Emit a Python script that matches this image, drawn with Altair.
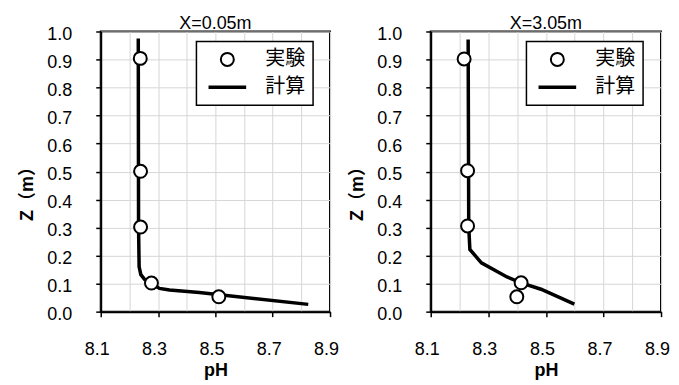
import altair as alt
import pandas as pd

# ---- data ----
SERIES = ["実験", "計算"]

# X=0.05m
EXP_PH_A = [8.238, 8.239, 8.239, 8.277, 8.512]
EXP_Z_A = [0.904, 0.501, 0.302, 0.102, 0.053]
CALC_PH_A = [8.231, 8.232, 8.234, 8.240, 8.253, 8.276, 8.305, 8.340, 8.444, 8.824]
CALC_Z_A = [0.975, 0.300, 0.160, 0.132, 0.115, 0.100, 0.083, 0.077, 0.068, 0.026]

# X=3.05m
EXP_PH_B = [8.216, 8.228, 8.228, 8.414, 8.399]
EXP_Z_B = [0.902, 0.503, 0.306, 0.103, 0.053]
CALC_PH_B = [8.230, 8.232, 8.236, 8.276, 8.365, 8.414, 8.483, 8.599]
CALC_Z_B = [0.971, 0.303, 0.222, 0.174, 0.124, 0.103, 0.080, 0.027]

TITLES = ["X=0.05m", "X=3.05m"]
PH_TICKS = [8.1, 8.2, 8.3, 8.4, 8.5, 8.6, 8.7, 8.8, 8.9]
Z_TICKS = [0.0, 0.1, 0.2, 0.3, 0.4, 0.5, 0.6, 0.7, 0.8, 0.9, 1.0]

FONT = "Liberation Sans, Noto Sans CJK JP, sans-serif"
CJK = "Noto Sans CJK JP, sans-serif"

# symbol paths (same horizontal extent so legend labels line up)
CIRCLE_SYM = "M-2.75,0M2.75,0M-1,0A1,1,0,1,0,1,0A1,1,0,1,0,-1,0Z"
LINE_SYM = "M-2.75,-0.12L2.75,-0.12L2.75,0.12L-2.75,0.12Z"

ODD = "round(datum.value*10) % 2 == 1"


def panel(title, exp_ph, exp_z, calc_ph, calc_z, w, h):
    exp = pd.DataFrame({"pH": exp_ph, "Z": exp_z, "series": SERIES[0]})
    calc = pd.DataFrame({"pH": calc_ph, "Z": calc_z, "i": list(range(len(calc_ph)))})

    x = alt.X(
        "pH:Q",
        scale=alt.Scale(domain=[8.1, 8.9], nice=False, zero=False),
        axis=alt.Axis(
            values=PH_TICKS,
            labelExpr=f"({ODD}) ? format(datum.value, '.1f') : ''",
            tickOpacity={"condition": {"test": ODD, "value": 1}, "value": 0},
            tickSize=5,
            labelPadding=24,
            labelFlush=False,
            labelOverlap=False,
            labelOffset=-4,
            labelFontSize=18,
            title="pH",
            titleFontSize=18,
            titleFontWeight="bold",
            titleBaseline="middle",
            titleY=59,
        ),
    )
    y = alt.Y(
        "Z:Q",
        scale=alt.Scale(domain=[0, 1], nice=False, zero=False),
        axis=alt.Axis(
            values=Z_TICKS,
            tickCount=11,
            format=".1f",
            tickSize=5,
            labelPadding=24,
            labelOverlap=False,
            labelFontSize=18,
            labelOffset=3,
            title="Z（m）",
            titleFontSize=18,
            titleFontWeight="bold",
            titleBaseline="middle",
            titleX=-73,
            titleY=158,
        ),
    )

    line = alt.Chart(calc).mark_line(color="black", strokeWidth=3.5).encode(
        x=x, y=y, order=alt.Order("i:Q")
    )
    pts = alt.Chart(exp).mark_point(
        filled=True, fill="white", stroke="black", strokeWidth=2, size=169, opacity=1
    ).encode(
        x=x,
        y=y,
        shape=alt.Shape(
            "series:N",
            scale=alt.Scale(domain=SERIES, range=[CIRCLE_SYM, LINE_SYM]),
            legend=alt.Legend(
                title=None,
                orient="none",
                legendX=96,
                legendY=10,
                fillColor="white",
                strokeColor="black",
                padding=8,
                labelFont=CJK,
                labelFontSize=20,
                labelColor="black",
                rowPadding=7,
                symbolOffset=13,
                labelOffset=28,
                symbolSize=169,
                symbolStrokeWidth=2,
            ),
        ),
    )
    return alt.layer(line, pts).properties(
        width=w,
        height=h,
        title=alt.TitleParams(
            title, fontSize=18, fontWeight="normal", font=FONT, color="black",
            anchor="middle", offset=-7,
        ),
    )


left = panel(TITLES[0], EXP_PH_A, EXP_Z_A, CALC_PH_A, CALC_Z_A, 230, 281)
right = panel(TITLES[1], EXP_PH_B, EXP_Z_B, CALC_PH_B, CALC_Z_B, 231, 281)

chart = (
    alt.hconcat(left, right, spacing=8)
    .resolve_scale(shape="independent")
    .resolve_legend(shape="independent")
    .properties(padding={"left": 10, "top": 5, "right": 0, "bottom": 0})
    .configure(font=FONT)
    .configure_view(stroke="black", strokeWidth=2)
    .configure_axis(
        domainColor="black",
        domainWidth=2,
        tickColor="black",
        tickWidth=1.5,
        gridColor="#d6d6d6",
        gridWidth=1,
        labelColor="black",
        titleColor="black",
        labelFont=FONT,
        titleFont=FONT,
    )
    .configure_legend(strokeWidth=1.5)
)

chart.save("out.html", embed_options={"renderer": "svg", "actions": False})
